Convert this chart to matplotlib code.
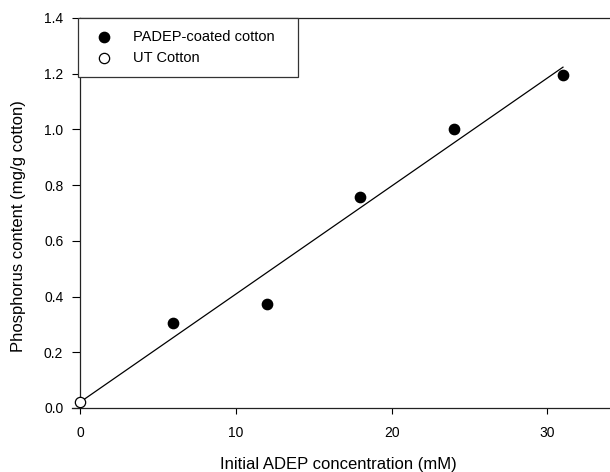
import numpy as np
import matplotlib
matplotlib.use("Agg")
import matplotlib.pyplot as plt

plt.rcParams['font.family'] = ['Liberation Sans', 'DejaVu Sans']

# data
padep_conc = [6, 12, 18, 24, 31]
padep_p = [0.305, 0.375, 0.757, 1.003, 1.195]
ut_conc = [0]
ut_p = [0.02]

# linear fit through all points (coated + untreated)
all_x = np.array(ut_conc + padep_conc, dtype=float)
all_y = np.array(ut_p + padep_p, dtype=float)
slope, icept = np.polyfit(all_x, all_y, 1)
fit_x = np.array([all_x.min(), all_x.max()])
fit_y = slope * fit_x + icept

fig = plt.figure(figsize=(6.10, 4.72), dpi=100)
ax = fig.add_axes([0.1311, 0.1356, 0.894, 0.8263])

ax.plot(fit_x, fit_y, color='black', lw=0.9, zorder=2)
ax.scatter(padep_conc, padep_p, s=55, color='black', zorder=3,
           label='PADEP-coated cotton', clip_on=False)
ax.scatter(ut_conc, ut_p, s=55, facecolor='white', edgecolor='black',
           linewidth=0.9, zorder=3, label='UT Cotton', clip_on=False)

ax.set_xlim(0, 35)
ax.set_ylim(0, 1.4)
ax.set_xticks([0, 10, 20, 30])
ax.set_yticks(np.arange(0, 1.41, 0.2))
ax.yaxis.set_major_formatter(matplotlib.ticker.FormatStrFormatter('%.1f'))
ax.tick_params(axis='y', direction='out', length=6, width=0.8, labelsize=10, pad=6)
ax.tick_params(axis='x', direction='out', length=4, width=0.8, labelsize=10, pad=9)

for s in ['left', 'bottom', 'top', 'right']:
    ax.spines[s].set_linewidth(0.9)
    ax.spines[s].set_color('#222222')
ax.spines['bottom'].set_bounds(-0.5, 35)

ax.set_xlabel('Initial ADEP concentration (mM)', fontsize=12)
ax.set_ylabel('Phosphorus content (mg/g cotton)', fontsize=12)
ax.xaxis.set_label_coords(0.473, -0.125)
ax.yaxis.set_label_coords(-0.099, 0.467)

# legend box spans about 220 px of the 545 px wide axes
leg = ax.legend(loc='upper left', bbox_to_anchor=(-0.004, 0, 220 / 545, 1),
                mode='expand', borderaxespad=0,
                fancybox=False, framealpha=1, edgecolor='#333333',
                fontsize=10.5, handletextpad=1.0, borderpad=0.8,
                labelspacing=0.5, handlelength=2.0)
leg.get_frame().set_linewidth(0.9)

fig.savefig('out.png', dpi=100)
